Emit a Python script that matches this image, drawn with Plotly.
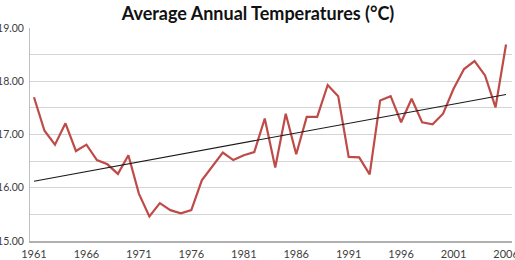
import numpy as np
import plotly.graph_objects as go

years = list(range(1961, 2007))
temps = [17.70, 17.07, 16.81, 17.21, 16.69, 16.81, 16.52, 16.44, 16.26, 16.61,
         15.89, 15.46, 15.71, 15.58, 15.52, 15.58, 16.14, 16.39, 16.66, 16.52,
         16.61, 16.67, 17.30, 16.38, 17.39, 16.63, 17.33, 17.33, 17.93, 17.72,
         16.58, 16.57, 16.25, 17.64, 17.72, 17.23, 17.67, 17.23, 17.19, 17.39,
         17.86, 18.23, 18.38, 18.11, 17.51, 18.69]
x_ticks = list(range(1961, 2007, 5))
y_ticks = [15, 16, 17, 18, 19]

slope, intercept = np.polyfit(years, temps, 1)
trend = [slope * y + intercept for y in years]

fig = go.Figure()
fig.add_trace(go.Scatter(x=years, y=temps, mode="lines",
                         line=dict(color="#BE4B48", width=2.2), showlegend=False))
fig.add_trace(go.Scatter(x=[years[0], years[-1]], y=[trend[0], trend[-1]], mode="lines",
                         line=dict(color="#1a1a1a", width=1.1), showlegend=False))

fig.update_layout(
    width=515, height=260,
    margin=dict(l=30, r=3, t=28, b=19, autoexpand=False),
    paper_bgcolor="white", plot_bgcolor="white",
    font=dict(family="Lato", size=11, color="#404040"),
    title=dict(text="<b>Average Annual Temperatures (°C)</b>",
               font=dict(family="Lato", size=18, color="#111111"),
               x=258 / 515, xref="container", xanchor="center",
               y=1 - 14 / 260, yref="container", yanchor="middle"),
)
fig.update_xaxes(range=[1960.62, 2006.57], tickmode="array", tickvals=x_ticks,
                 ticktext=[str(v) for v in x_ticks], showgrid=False,
                 showline=True, linecolor="#b0b0b0", linewidth=1.5,
                 ticks="", ticklabelstandoff=2, ticklabeloverflow="allow",
                 automargin=False, zeroline=False)
fig.update_yaxes(range=[15, 19], tickmode="array", tickvals=y_ticks,
                 ticktext=["%.2f" % v for v in y_ticks], showgrid=True,
                 gridcolor="#d4d4d4", gridwidth=1,
                 minor=dict(dtick=0.5, tick0=15, showgrid=True, gridcolor="#d4d4d4", gridwidth=1),
                 showline=True, linecolor="#c0c0c0", linewidth=1,
                 tickfont=dict(size=10.5),
                 ticks="", ticklabelstandoff=3, ticklabeloverflow="allow",
                 automargin=False, zeroline=False)

fig.write_html("out.html")
